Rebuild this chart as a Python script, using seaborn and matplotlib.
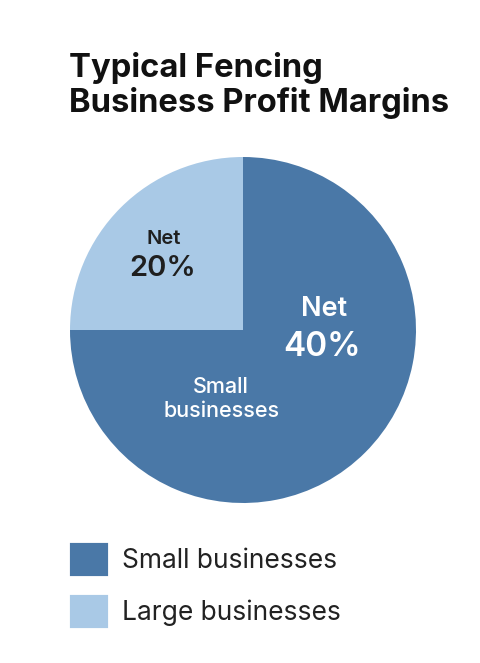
import matplotlib
matplotlib.use("Agg")
import matplotlib.pyplot as plt
from matplotlib.patches import Patch
import seaborn as sns

# Data
categories = ["Small businesses", "Large businesses"]
shares = [75, 25]
net_margins = ["40%", "20%"]
title_lines = ["Typical Fencing", "Business Profit Margins"]

sns.set_theme(style="white")
plt.rcParams["font.family"] = ["Inter", "DejaVu Sans"]

colors = ["#4a78a7", "#a9c9e6"]
W, H = 481, 663
fig = plt.figure(figsize=(W / 100, H / 100), dpi=100)
fig.patch.set_facecolor("white")

cx, cy, r = 243, 330, 173
ax = fig.add_axes([(cx - r) / W, (H - cy - r) / H, 2 * r / W, 2 * r / H])
ax.pie(shares, colors=colors, startangle=90, counterclock=False,
       wedgeprops=dict(linewidth=0), radius=1)
ax.set_xlim(-1, 1)
ax.set_ylim(-1, 1)
ax.set_aspect("equal")
ax.axis("off")

def px(x, y):
    return ((x - cx) / r, (cy - y) / r)

# slice labels
ax.text(*px(164, 239), "Net", ha="center", va="center", fontsize=14.5,
        fontweight="semibold", color="#1f1f1f")
ax.text(*px(163, 268), net_margins[1], ha="center", va="center", fontsize=21,
        fontweight="semibold", color="#1f1f1f")
ax.text(*px(324, 309), "Net", ha="center", va="center", fontsize=19.5,
        fontweight="semibold", color="white")
ax.text(*px(322, 347), net_margins[0], ha="center", va="center", fontsize=24,
        fontweight="semibold", color="white")
ax.text(*px(221, 387), "Small", ha="center", va="center", fontsize=15.5,
        fontweight="medium", color="white")
ax.text(*px(222, 411), "businesses", ha="center", va="center", fontsize=15.5,
        fontweight="medium", color="white")

# title
fig.text(69 / W, 1 - 77 / H, title_lines[0], ha="left", va="baseline",
         fontsize=23.6, fontweight="bold", color="#111111")
fig.text(69 / W, 1 - 112 / H, title_lines[1], ha="left", va="baseline",
         fontsize=23.6, fontweight="bold", color="#111111")

# legend
handles = [Patch(facecolor=c, edgecolor=c, linewidth=3, joinstyle="round")
           for c in colors]
fig.legend(handles, categories, loc="upper left",
           bbox_to_anchor=(72 / W, 1 - 545 / H), frameon=False,
           fontsize=19, handlelength=1.3, handleheight=1.3,
           handletextpad=0.6, labelspacing=0.86, borderpad=0,
           borderaxespad=0, labelcolor="#222222")

fig.savefig("out.png", dpi=100, facecolor="white")
